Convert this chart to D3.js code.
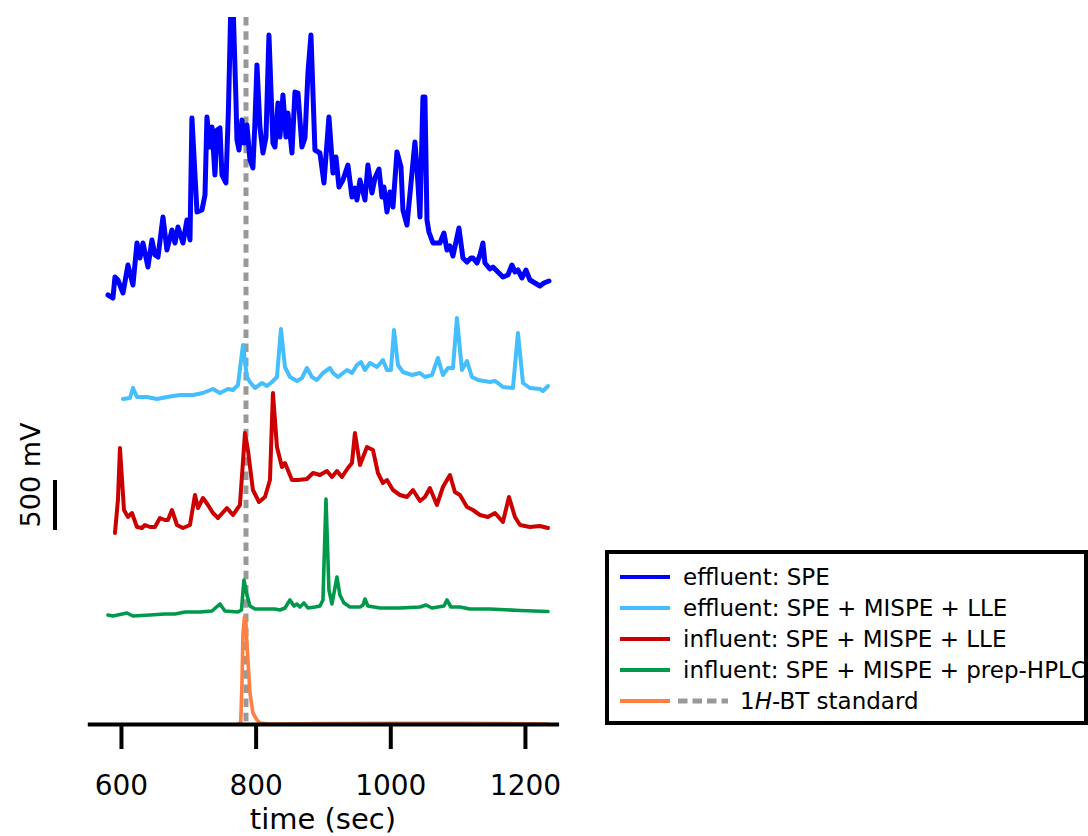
<!DOCTYPE html>
<html>
<head>
<meta charset="utf-8">
<script src="https://cdn.jsdelivr.net/npm/d3@7"></script>
<style>
  html, body { margin: 0; padding: 0; background: #fff; }
  svg { display: block; font-family: "DejaVu Sans", sans-serif; }
</style>
</head>
<body>
<svg id="chart" width="1088" height="836"></svg>
<script>
// ---------------- data (time in sec, signal in mV) ----------------
const blueTime = [580.7,588.1,591.1,595.5,603.0,610.4,617.8,623.8,628.2,632.7,640.1,646.0,650.5,655.0,662.4,668.3,675.7,680.2,684.7,692.1,698.0,702.5,705.4,712.9,720.3,724.8,727.7,732.2,735.2,739.6,742.6,747.0,750.0,755.9,759.6,763.4,766.3,770.8,772.3,775.3,779.7,782.7,787.1,791.6,796.0,799.0,802.0,806.4,810.9,815.4,819.8,825.7,828.7,833.2,836.1,840.6,845.1,848.0,854.0,858.4,862.9,868.8,873.3,877.7,882.2,888.1,895.5,901.5,908.9,914.9,919.3,923.8,929.7,937.1,943.1,947.5,950.5,955.0,962.4,966.8,972.8,977.2,983.2,987.6,990.6,995.1,999.5,1004.0,1009.9,1015.9,1018.8,1024.8,1032.2,1036.6,1039.6,1044.1,1048.5,1051.5,1054.5,1057.4,1063.4,1069.3,1073.8,1079.7,1084.2,1088.6,1093.1,1102.0,1107.9,1113.9,1119.8,1122.8,1128.7,1133.2,1137.6,1140.6,1148.0,1152.5,1159.9,1167.3,1174.8,1180.7,1185.2,1189.6,1195.6,1201.5,1207.4,1214.9,1222.3,1228.2,1235.7];
const blueSignal = [50,20,230,200,70,350,150,570,420,570,330,600,450,430,830,500,700,570,730,570,800,600,1820,880,900,1050,1830,1530,1730,1250,1700,1720,1250,1170,1900,3000,3000,2000,1600,1500,1800,1570,1750,1400,1320,1780,2350,1730,1470,1630,2650,1570,1530,1970,1630,2050,1630,1870,1470,2080,2070,1530,1620,2270,2650,1500,1470,1170,1830,1270,1430,1130,1200,1350,1030,1120,1000,1200,1000,1350,1070,1220,1310,1030,1130,880,1080,930,1480,1330,900,750,1270,1580,1330,830,2030,2030,800,680,570,570,570,670,500,540,440,720,420,380,420,420,370,450,570,370,310,330,280,230,250,350,280,300,220,300,200,170,140,170,190];

const lightBlueTime = [603.0,613.4,617.8,623.8,638.6,653.5,668.3,687.6,706.9,721.8,736.6,747.0,758.9,766.3,773.8,781.2,787.1,791.6,799.0,809.4,816.8,824.3,831.7,837.6,843.6,851.0,861.4,868.8,876.2,883.7,891.1,900.0,910.4,914.9,922.3,935.7,943.1,950.5,956.4,962.4,969.8,980.2,989.1,995.1,1001.0,1005.5,1011.4,1018.8,1032.2,1044.1,1051.5,1061.9,1070.8,1078.2,1085.7,1093.1,1099.0,1106.4,1113.9,1121.3,1130.2,1148.0,1155.5,1159.9,1167.3,1182.2,1189.6,1197.1,1207.4,1222.3,1226.8,1234.2];
const lightBlueSignal = [10,20,120,30,30,10,30,50,50,70,110,70,110,100,150,550,230,180,120,170,140,180,230,710,330,230,190,220,320,230,200,270,320,270,230,300,270,350,380,300,370,330,400,300,300,700,350,280,250,270,230,250,420,250,320,320,820,300,390,230,200,180,190,170,130,120,670,170,120,110,90,140];

const redTime = [591.1,595.5,598.5,604.5,610.4,616.3,623.8,631.2,635.6,643.1,650.5,657.9,665.3,669.8,675.7,683.2,692.1,702.5,709.9,714.4,721.8,729.2,736.6,744.1,757.4,766.3,776.7,784.2,788.6,796.0,805.0,813.9,821.3,825.7,831.7,839.1,843.6,854.0,862.9,876.2,885.2,895.5,905.9,913.4,920.8,928.2,937.1,943.1,947.5,955.0,965.4,974.3,981.7,989.1,995.1,1004.0,1014.4,1024.8,1033.7,1044.1,1051.5,1058.9,1069.3,1078.2,1088.6,1096.0,1103.5,1113.9,1122.8,1133.2,1145.1,1155.5,1167.3,1176.3,1185.2,1192.6,1207.4,1222.3,1234.2];
const redSignal = [-30,300,820,200,130,170,30,20,50,30,30,120,100,100,200,50,20,50,350,220,320,250,170,120,220,150,250,970,800,400,280,330,500,1370,830,630,670,500,500,510,570,550,590,530,590,530,620,670,970,650,830,800,570,470,500,400,350,330,400,290,330,420,250,430,550,380,350,230,200,150,130,170,80,330,130,50,30,40,20];

const greenTime = [580.7,588.1,608.9,617.8,643.1,665.3,680.2,695.1,717.3,735.2,747.0,754.4,773.8,779.0,782.7,787.1,791.6,799.0,813.9,828.7,836.1,843.6,851.0,857.0,861.4,865.8,871.8,877.7,888.1,895.5,900.0,904.5,908.9,913.4,920.8,925.2,931.2,940.1,955.0,959.5,962.4,966.8,984.7,1014.4,1044.1,1053.0,1061.9,1079.7,1084.2,1090.1,1103.5,1118.3,1148.0,1192.6,1234.2];
const greenSignal = [10,0,30,0,10,20,20,40,40,50,120,50,40,60,360,210,100,70,70,70,60,80,160,100,120,90,130,80,90,100,160,1170,260,120,390,210,130,90,90,110,170,100,80,80,90,110,80,100,160,90,90,70,70,55,45];

const orangeTime = [773.8,777.8,779.7,781.2,783.4,785.7,787.1,788.6,791.6,796.0,802.0,806.4,821.3,900.0,1000.0,1100.0,1234.2];
const orangeSignal = [0,10,400,900,1070,1000,800,640,310,110,40,10,0,5,8,8,0];

const seriesNames = ["effluent: SPE","effluent: SPE + MISPE + LLE","influent: SPE + MISPE + LLE","influent: SPE + MISPE + prep-HPLC","1H-BT standard"];
const seriesColors = ["#0000FF","#45BEFF","#CC0000","#00994C","#FF8040"];
const seriesOffsets = [4240, 3240, 1940, 1080, 0];   // vertical stacking offsets (mV)
const standardTime = 785.7;                           // 1H-BT retention time (dashed line)
const xTicks = [600, 800, 1000, 1200];
const scaleBarMV = 500;

// ---------------- layout ----------------
const svg = d3.select("#chart");
const x = d3.scaleLinear().domain([550, 1250]).range([87.3, 558.6]);
const y = d3.scaleLinear().domain([0, 7070]).range([724, 17]);

svg.append("defs").append("clipPath").attr("id", "plotclip")
  .append("rect").attr("x", 0).attr("y", y(7070)).attr("width", 600).attr("height", y(0) - y(7070) + 10);

const times = [blueTime, lightBlueTime, redTime, greenTime, orangeTime];
const signals = [blueSignal, lightBlueSignal, redSignal, greenSignal, orangeSignal];
const widths = [5, 4, 4, 3.6, 3.6];

const plot = svg.append("g").attr("clip-path", "url(#plotclip)");

// dashed standard marker
plot.append("line")
  .attr("x1", x(standardTime)).attr("x2", x(standardTime))
  .attr("y1", y(7070)).attr("y2", y(0))
  .attr("stroke", "#999999").attr("stroke-width", 5)
  .attr("stroke-dasharray", "8.5,5.7");

const line = d3.line().x(d => x(d[0])).y(d => y(d[1]));
[4, 3, 2, 1, 0].forEach(i => {
  const pts = times[i].map((t, k) => [t, signals[i][k] + seriesOffsets[i]]);
  plot.append("path")
    .datum(pts)
    .attr("d", line)
    .attr("fill", "none")
    .attr("stroke", seriesColors[i])
    .attr("stroke-width", widths[i])
    .attr("stroke-linejoin", "round")
    .attr("stroke-linecap", "round");
});

// x axis
const axis = d3.axisBottom(x).tickValues(xTicks).tickSize(25).tickSizeOuter(0).tickFormat(d3.format("d"));
const gx = svg.append("g").attr("transform", `translate(0,${y(0)})`).call(axis);
gx.select(".domain").attr("stroke", "#000").attr("stroke-width", 4);
gx.selectAll(".tick line").attr("stroke", "#000").attr("stroke-width", 4);
gx.selectAll(".tick text").attr("y", 71).attr("dy", 0)
  .attr("font-size", 28).attr("font-family", "DejaVu Sans, sans-serif").attr("fill", "#000");

svg.append("text").attr("x", (x.range()[0] + x.range()[1]) / 2).attr("y", 829)
  .attr("text-anchor", "middle").attr("font-size", 29).attr("fill", "#000").text("time (sec)");

// scale bar (500 mV)
svg.append("line").attr("x1", 55).attr("x2", 55)
  .attr("y1", y(1940)).attr("y2", y(1940 + scaleBarMV))
  .attr("stroke", "#000").attr("stroke-width", 4);
svg.append("text").attr("transform", "translate(40,475) rotate(-90)")
  .attr("text-anchor", "middle").attr("font-size", 27).attr("fill", "#000").text(scaleBarMV + " mV");

// legend
const lg = svg.append("g");
lg.append("rect").attr("x", 607).attr("y", 552).attr("width", 479).attr("height", 171)
  .attr("fill", "#fff").attr("stroke", "#000").attr("stroke-width", 4);
seriesNames.forEach((name, i) => {
  const cy = 577 + i * 31;
  lg.append("line").attr("x1", 620).attr("x2", 670).attr("y1", cy).attr("y2", cy)
    .attr("stroke", seriesColors[i]).attr("stroke-width", 4);
  if (i === 4) {
    lg.append("line").attr("x1", 678).attr("x2", 728).attr("y1", cy).attr("y2", cy)
      .attr("stroke", "#999999").attr("stroke-width", 5).attr("stroke-dasharray", "9.5,5");
    const t = lg.append("text").attr("x", 740).attr("y", cy + 8).attr("font-size", 23).attr("fill", "#000");
    t.append("tspan").text("1");
    t.append("tspan").attr("font-style", "italic").text("H");
    t.append("tspan").text("-BT standard");
  } else {
    lg.append("text").attr("x", 683).attr("y", cy + 8).attr("font-size", 23).attr("fill", "#000").text(name);
  }
});
</script>
</body>
</html>
